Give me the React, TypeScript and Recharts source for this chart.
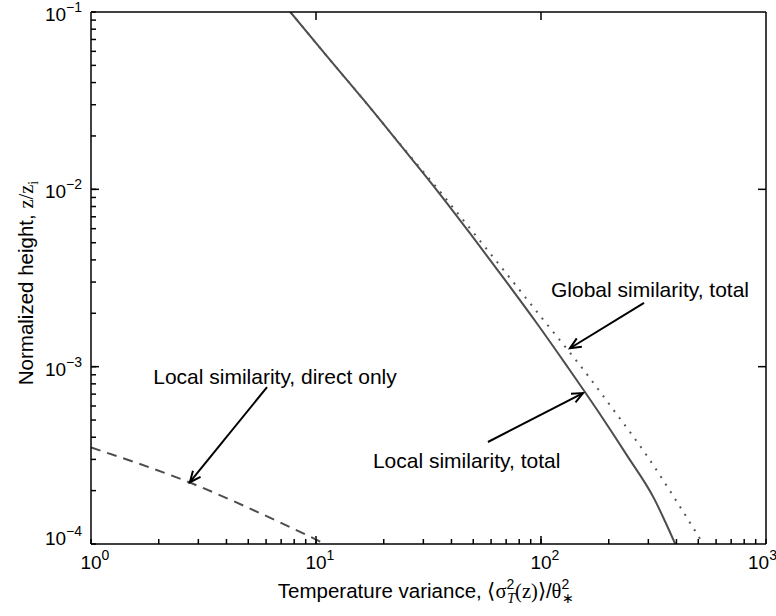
import { LineChart, Line, XAxis, YAxis, ReferenceLine, ReferenceDot } from 'recharts';

// values (log-log axes)
const localTotalX = [7.69, 11.2, 16.4, 23.7, 34.2, 48.5, 68.2, 95.1, 131, 179, 241, 320, 357, 395];
const localTotalY = [0.1, 0.0562, 0.0316, 0.0178, 0.01, 0.00562, 0.00316, 0.00178, 0.001, 0.000562, 0.000316, 0.000178, 0.000133, 0.0001];

const globalTotalX = [7.69, 11.2, 16.4, 23.8, 34.9, 50.5, 72.8, 104.5, 150.7, 211.8, 295, 396, 526];
const globalTotalY = [0.1, 0.0562, 0.0316, 0.0178, 0.01, 0.00562, 0.00316, 0.00178, 0.001, 0.000562, 0.000316, 0.000178, 0.0001];

const localDirectX = [1, 2.8, 6, 11];
const localDirectY = [0.00035, 0.00022, 0.000144, 0.0001];

const xTicks = [
  1, 2, 3, 4, 5, 6, 7, 8, 9,
  10, 20, 30, 40, 50, 60, 70, 80, 90,
  100, 200, 300, 400, 500, 600, 700, 800, 900,
  1000,
];
const yTicks = [
  0.0001, 0.0002, 0.0003, 0.0004, 0.0005, 0.0006, 0.0007, 0.0008, 0.0009,
  0.001, 0.002, 0.003, 0.004, 0.005, 0.006, 0.007, 0.008, 0.009,
  0.01, 0.02, 0.03, 0.04, 0.05, 0.06, 0.07, 0.08, 0.09,
  0.1,
];
// inner decades get a longer tick
const xMajorInner = [10, 100];
const yMajorInner = [0.001, 0.01];

const X_MIN = 1;
const X_MAX = 1000;
const Y_MIN = 0.0001;
const Y_MAX = 0.1;

const annotations = [
  { text: 'Local similarity, direct only', tx: 1.89, ty: 0.000798, from: [6.06, 0.000767], to: [2.75, 0.000223] },
  { text: 'Global similarity, total', tx: 110.8, ty: 0.00247, from: [287, 0.00229], to: [134.5, 0.00127] },
  { text: 'Local similarity, total', tx: 17.9, ty: 0.000268, from: [58.1, 0.000376], to: [153.7, 0.00071] },
];

const toPoints = (xs: number[], ys: number[]) => xs.map((x, i) => ({ x, y: ys[i] }));
const localTotal = toPoints(localTotalX, localTotalY);
const globalTotal = toPoints(globalTotalX, globalTotalY);
const localDirect = toPoints(localDirectX, localDirectY);

const SANS = '"Liberation Sans", Arial, sans-serif';
const SERIF = '"Liberation Serif", "Times New Roman", serif';
const FS = 21; // annotation size
const LFS = 20.5; // axis title size
const TFS = 19; // tick label size
const SUP = 14;
const MINOR = 5;

const isMajor = (v: number) => Math.abs(Math.log10(v) - Math.round(Math.log10(v))) < 1e-6;

const BottomTick = (props: any) => {
  const { x, y, payload } = props;
  const v = payload.value;
  if (!isMajor(v)) return <g />;
  const e = Math.round(Math.log10(v));
  // last label is pulled inside the figure, like the reference
  const left = e === 3 ? 748 : x - TFS * 0.556;
  return (
    <text x={left} y={y + 25} fontFamily={SANS} fontSize={TFS} fill="#000">
      10
      <tspan dy={-9} fontSize={SUP}>{e}</tspan>
    </text>
  );
};

const LeftTick = (props: any) => {
  const { x, y, payload } = props;
  const v = payload.value;
  if (!isMajor(v)) return <g />;
  const e = Math.round(Math.log10(v));
  const base = e === -4 ? y + 1 : y + 9;
  return (
    <text x={x - 9} y={base} textAnchor="end" fontFamily={SANS} fontSize={TFS} fill="#000">
      10
      <tspan dy={-9} fontSize={SUP}>{'−' + -e}</tspan>
    </text>
  );
};

// longer inward marks at both ends of a segment spanning the plot
const MajorMarks = (props: any) => {
  const { x1, y1, x2, y2 } = props;
  const d = Math.hypot(x2 - x1, y2 - y1) || 1;
  const ux = ((x2 - x1) / d) * 8;
  const uy = ((y2 - y1) / d) * 8;
  return (
    <g stroke="#000" strokeWidth={1.5} fill="none">
      <line x1={x1} y1={y1} x2={x1 + ux} y2={y1 + uy} />
      <line x1={x2} y1={y2} x2={x2 - ux} y2={y2 - uy} />
    </g>
  );
};

const Arrow = (props: any) => {
  const { x1, y1, x2, y2 } = props;
  const ang = Math.atan2(y2 - y1, x2 - x1);
  const L = 12;
  const a = 0.42;
  const h1x = x2 - L * Math.cos(ang - a);
  const h1y = y2 - L * Math.sin(ang - a);
  const h2x = x2 - L * Math.cos(ang + a);
  const h2y = y2 - L * Math.sin(ang + a);
  return (
    <g stroke="#000" strokeWidth={2} fill="none">
      <line x1={x1} y1={y1} x2={x2} y2={y2} />
      <polyline points={`${h1x},${h1y} ${x2},${y2} ${h2x},${h2y}`} />
    </g>
  );
};

const XLabel = () => (
  <text x={426} y={598} textAnchor="middle" fontFamily={SANS} fontSize={LFS} fill="#000">
    Temperature variance, ⟨
    <tspan fontFamily={SERIF}>σ</tspan>
    <tspan fontSize={SUP} dy={-9}>2</tspan>
    <tspan fontSize={SUP} dx={-7} dy={14} fontFamily={SERIF} fontStyle="italic">T</tspan>
    <tspan fontFamily={SERIF} dy={-5}>(z)</tspan>
    <tspan>⟩/</tspan>
    <tspan fontFamily={SERIF}>θ</tspan>
    <tspan fontSize={SUP} dy={-9}>2</tspan>
    <tspan fontSize={SUP} dx={-7} dy={14}>∗</tspan>
  </text>
);

const YLabel = () => (
  <text
    x={33}
    y={283}
    transform="rotate(-90, 33, 283)"
    textAnchor="middle"
    fontFamily={SANS}
    fontSize={LFS}
    fill="#000"
  >
    Normalized height,{' '}
    <tspan fontFamily={SERIF}>z/z</tspan>
    <tspan fontFamily={SERIF} fontSize={SUP} dy={5}>i</tspan>
  </text>
);

export default function App() {
  const axisLine = { stroke: '#000', strokeWidth: 1.5 };
  const tickLine = { stroke: '#000', strokeWidth: 1.5 };
  return (
    <div style={{ position: 'absolute', left: 0, top: 0, width: 776, height: 616, background: '#fff' }}>
      <LineChart width={776} height={616} margin={{ top: 8, right: 6, bottom: 0, left: 0 }}>
        <XAxis
          xAxisId="b"
          type="number"
          dataKey="x"
          scale="log"
          domain={[X_MIN, X_MAX]}
          allowDataOverflow
          ticks={xTicks}
          interval={0}
          tickSize={-MINOR}
          tickMargin={MINOR}
          tickLine={tickLine}
          axisLine={axisLine}
          tick={<BottomTick />}
          height={72}
        />
        <XAxis
          xAxisId="t"
          orientation="top"
          type="number"
          dataKey="x"
          scale="log"
          domain={[X_MIN, X_MAX]}
          allowDataOverflow
          ticks={xTicks}
          interval={0}
          tickSize={-MINOR}
          tickLine={tickLine}
          tick={false}
          axisLine={axisLine}
          height={4}
        />
        <YAxis
          yAxisId="l"
          type="number"
          dataKey="y"
          scale="log"
          domain={[Y_MIN, Y_MAX]}
          allowDataOverflow
          ticks={yTicks}
          interval={0}
          tickSize={-MINOR}
          tickMargin={MINOR}
          tickLine={tickLine}
          axisLine={axisLine}
          tick={<LeftTick />}
          width={91}
        />
        <YAxis
          yAxisId="r"
          orientation="right"
          type="number"
          dataKey="y"
          scale="log"
          domain={[Y_MIN, Y_MAX]}
          allowDataOverflow
          ticks={yTicks}
          interval={0}
          tickSize={-MINOR}
          tickLine={tickLine}
          tick={false}
          axisLine={axisLine}
          width={4}
        />
        {xMajorInner.map((v) => (
          <ReferenceLine
            key={'xm' + v}
            xAxisId="b"
            yAxisId="l"
            segment={[{ x: v, y: Y_MIN }, { x: v, y: Y_MAX }]}
            shape={<MajorMarks />}
          />
        ))}
        {yMajorInner.map((v) => (
          <ReferenceLine
            key={'ym' + v}
            xAxisId="b"
            yAxisId="l"
            segment={[{ x: X_MIN, y: v }, { x: X_MAX, y: v }]}
            shape={<MajorMarks />}
          />
        ))}
        <Line
          xAxisId="b"
          yAxisId="l"
          data={localTotal}
          dataKey="y"
          type="monotone"
          stroke="#4d4d4d"
          strokeWidth={2}
          dot={false}
          isAnimationActive={false}
        />
        <Line
          xAxisId="b"
          yAxisId="l"
          data={globalTotal}
          dataKey="y"
          type="monotone"
          stroke="#555"
          strokeWidth={2}
          strokeDasharray="2 7"
          dot={false}
          isAnimationActive={false}
        />
        <Line
          xAxisId="b"
          yAxisId="l"
          data={localDirect}
          dataKey="y"
          type="monotone"
          stroke="#4d4d4d"
          strokeWidth={2}
          strokeDasharray="10 7"
          dot={false}
          isAnimationActive={false}
        />
        {annotations.map((a) => (
          <ReferenceLine
            key={'l' + a.text}
            xAxisId="b"
            yAxisId="l"
            segment={[{ x: a.from[0], y: a.from[1] }, { x: a.to[0], y: a.to[1] }]}
            shape={<Arrow />}
          />
        ))}
        {annotations.map((a) => (
          <ReferenceDot
            key={'t' + a.text}
            xAxisId="b"
            yAxisId="l"
            x={a.tx}
            y={a.ty}
            r={0}
            shape={(p: any) => (
              <text x={p.cx} y={p.cy} fontFamily={SANS} fontSize={FS} fill="#000">
                {a.text}
              </text>
            )}
          />
        ))}
        <XLabel />
        <YLabel />
      </LineChart>
    </div>
  );
}
